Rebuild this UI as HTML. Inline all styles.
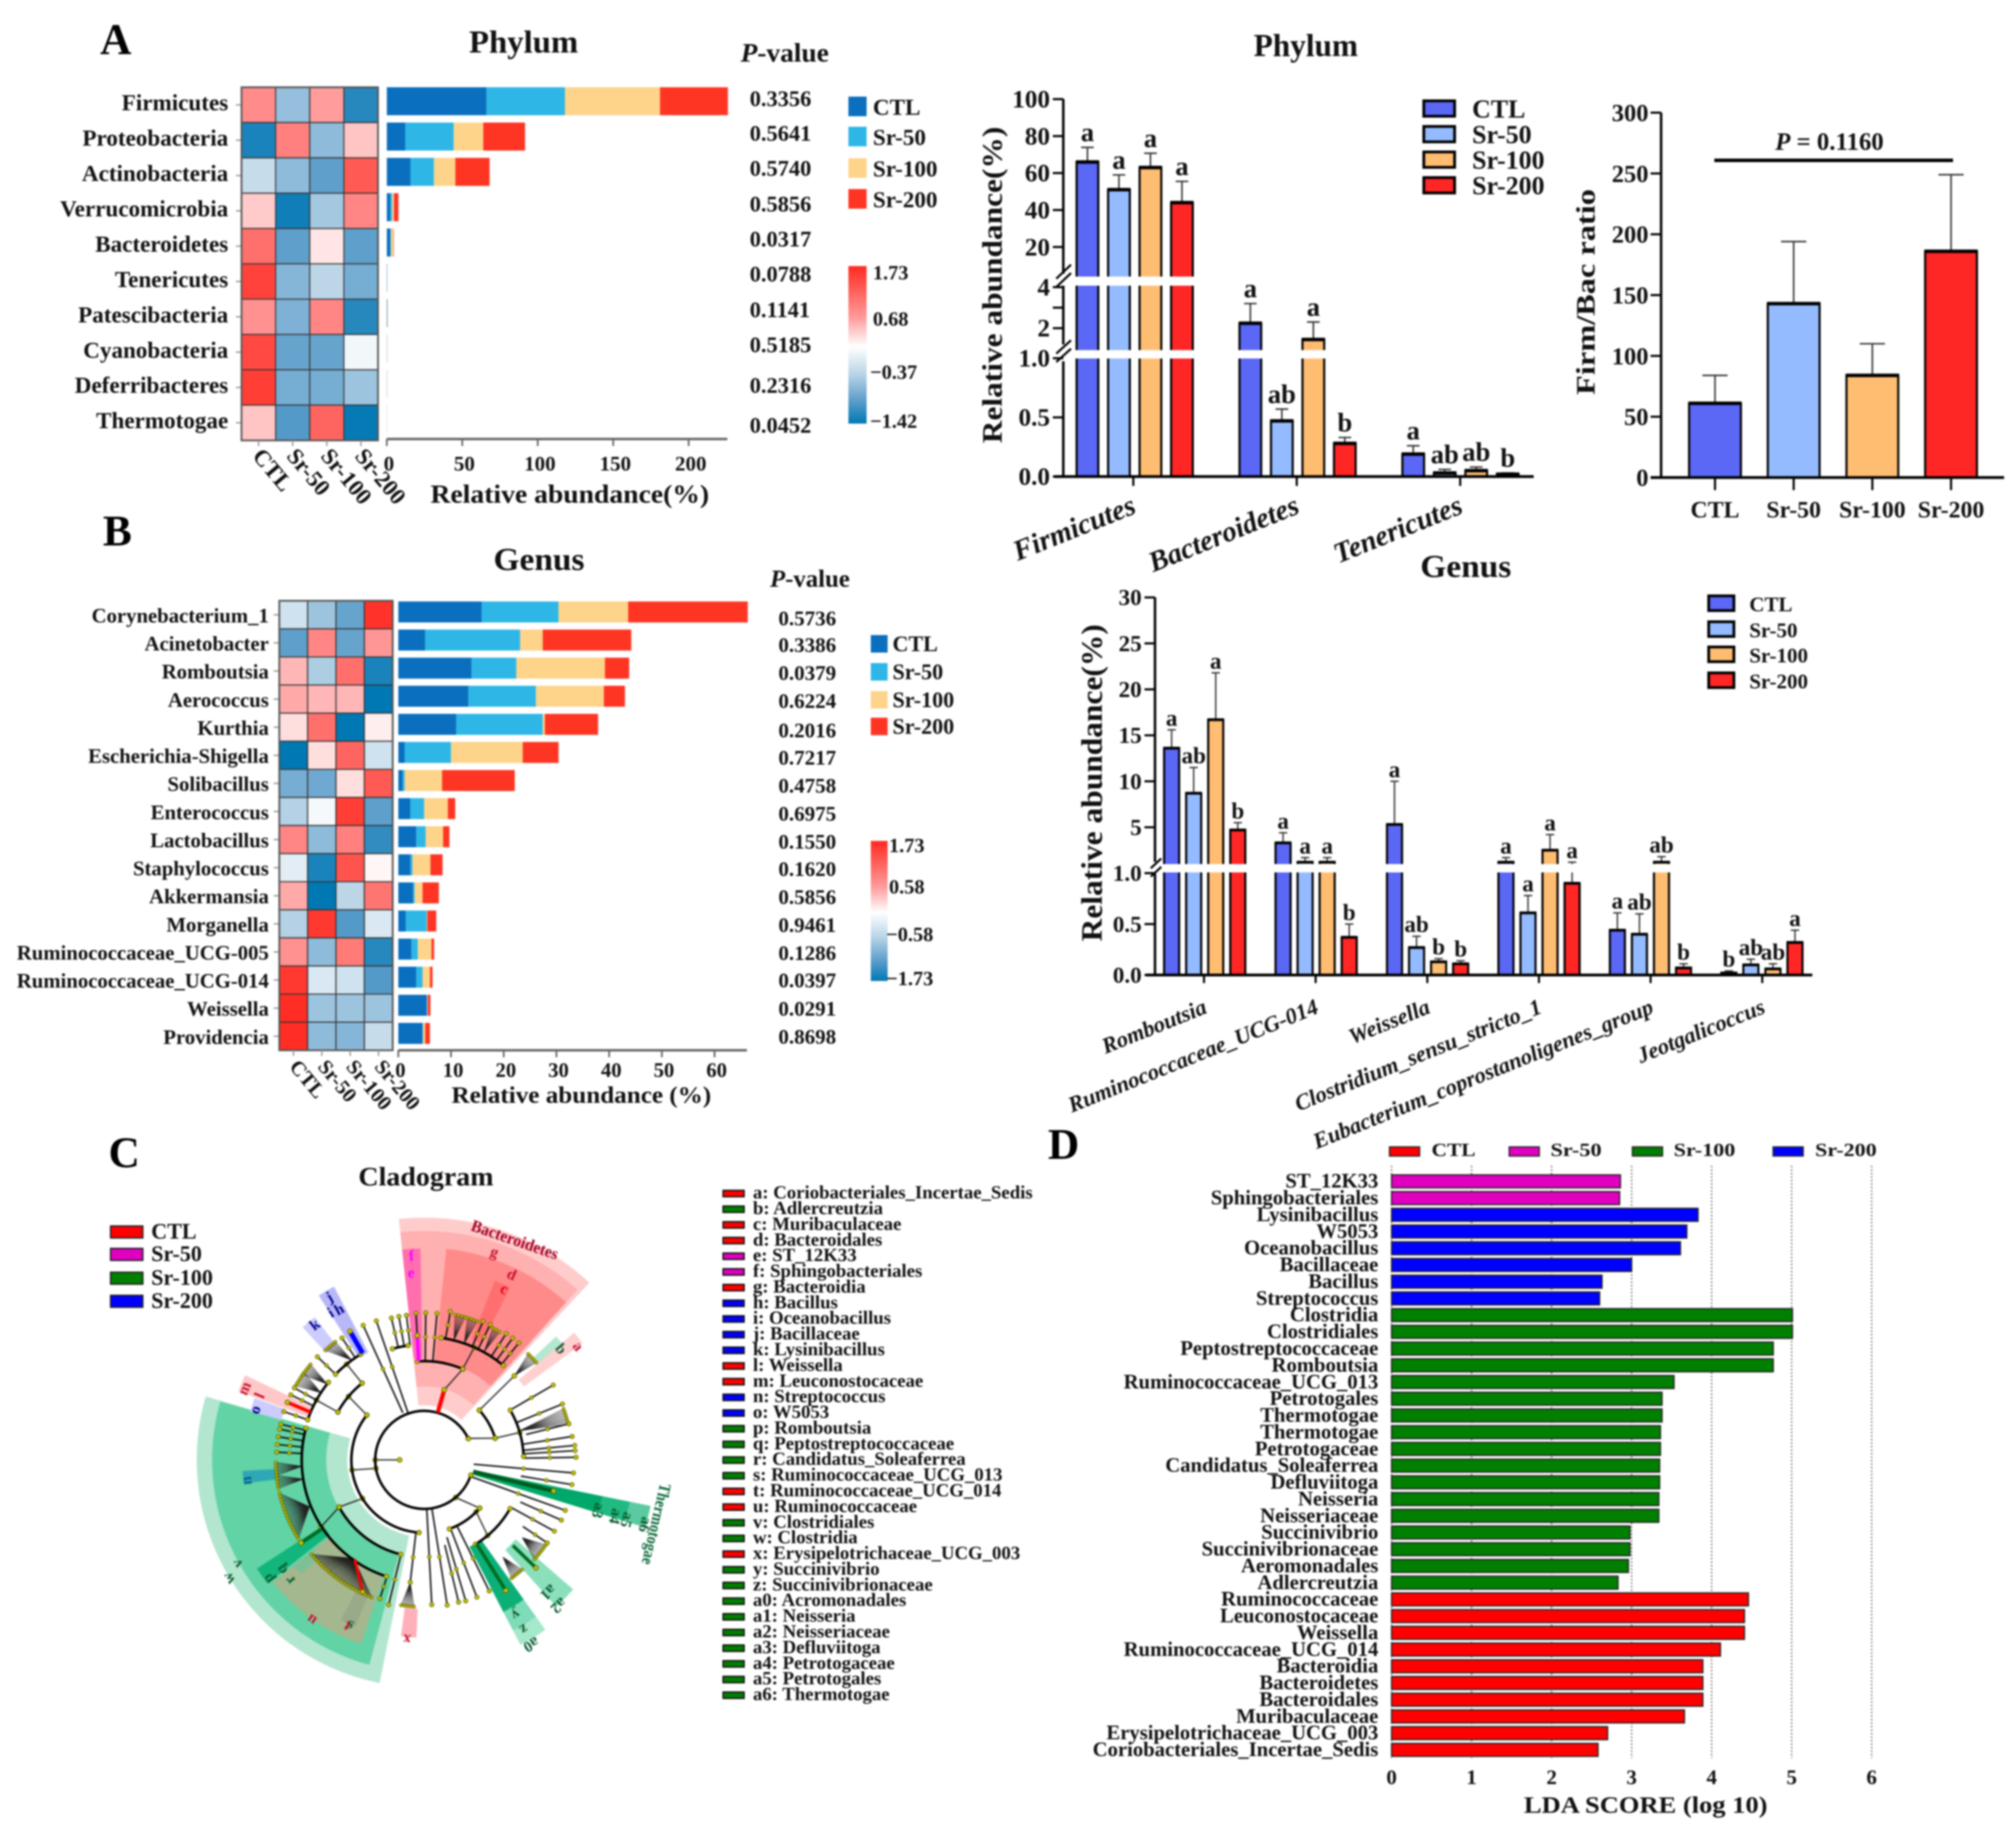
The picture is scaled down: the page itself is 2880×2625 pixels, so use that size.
<!DOCTYPE html>
<html lang="en">
<head>
<meta charset="utf-8">
<title>Microbiota composition figure</title>
<style>
html,body{margin:0;padding:0;background:#fff;}
#figure{position:absolute;left:0;top:0;width:2880px;height:2625px;filter:blur(1.2px);}
text{font-family:"Liberation Serif",serif;font-weight:bold;fill:#111;}
</style>
</head>
<body>
<svg id="figure" xmlns="http://www.w3.org/2000/svg" width="2880" height="2625" viewBox="0 0 2880 2625">
<defs>
<linearGradient id="heatGrad" x1="0" y1="0" x2="0" y2="1">
<stop offset="0" stop-color="#ff2a20"/><stop offset="0.33" stop-color="#ff9c9c"/><stop offset="0.51" stop-color="#ffffff"/><stop offset="0.68" stop-color="#bcd6e8"/><stop offset="0.85" stop-color="#5f9fcb"/><stop offset="1" stop-color="#0078b4"/>
</linearGradient>
</defs>
<rect x="0" y="0" width="2880" height="2625" fill="#ffffff"/>
<g id="panelA"></g>
<g id="barsA"></g>
<g id="ratio"></g>
<g id="panelB"></g>
<g id="barsB"></g>
<g id="panelC"></g>
<g id="panelD"></g>
</svg>
<script>
/* ---------- shared ---------- */
const groupNames = ['CTL','Sr-50','Sr-100','Sr-200'];
const stackColors = ['#0a6fbf','#2eb7e6','#fdd48a','#ff3524'];
const barColors = ['#5b67f5','#94bbff','#ffbd72','#ff2626'];

/* ---------- panel A: phylum ---------- */
const phylumNames = ['Firmicutes','Proteobacteria','Actinobacteria','Verrucomicrobia','Bacteroidetes','Tenericutes','Patescibacteria','Cyanobacteria','Deferribacteres','Thermotogae'];
const phylumHeat = [[0.85,-0.65,0.7,-1.25],[-1.3,0.95,-0.7,0.4],[-0.35,-0.7,-1.0,1.3],[0.35,-1.35,-0.55,0.9],[1.1,-1.0,0.15,-1.0],[1.5,-0.75,-0.4,-0.85],[0.8,-0.8,0.9,-1.25],[1.45,-0.95,-0.95,-0.12],[1.55,-0.85,-0.85,-0.6],[0.4,-1.05,1.2,-1.4]];
const phylumStack = [[66,52,63,45],[12.3,32,19.6,27.7],[15.8,15.4,14.2,22.7],[2.3,1.2,1.2,3],[2.3,0.5,1.5,0.3],[0.19,0.03,0.05,0.02],[0.3,0.1,0.2,0.05],[0.1,0.05,0.05,0.05],[0.1,0.03,0.03,0.04],[0.06,0.02,0.06,0.01]];
const phylumPValues = ['0.3356','0.5641','0.5740','0.5856','0.0317','0.0788','0.1141','0.5185','0.2316','0.0452'];
const phylumStackTicks = [0,50,100,150,200];
const phylumColorTicks = ['1.73','0.68','\u22120.37','\u22121.42'];

/* ---------- phylum bar chart ---------- */
const phylumBarNames = ['Firmicutes','Bacteroidetes','Tenericutes'];
const phylumBarValues = [[66,51,63,44],[2.24,0.47,1.45,0.28],[0.19,0.03,0.05,0.02]];
const phylumBarErrors = [[73.9,59,70.7,55.5],[3.2,0.57,2.3,0.33],[0.26,0.06,0.08,0.03]];
const phylumBarLetters = [['a','a','a','a'],['a','ab','a','b'],['a','ab','ab','b']];
const phylumAxisTicks = [100,80,60,40,20,4,3,2,1,0.5,0];
const phylumAxisLabels = ['100','80','60','40','20','4','','2','1.0','0.5','0.0'];

/* ---------- ratio chart ---------- */
const ratioValues = [61,143,84,186];
const ratioErrors = [84,194,110,249];
const ratioTicks = [0,50,100,150,200,250,300];

/* ---------- panel B: genus ---------- */
const genusNames = ['Corynebacterium_1','Acinetobacter','Romboutsia','Aerococcus','Kurthia','Escherichia-Shigella','Solibacillus','Enterococcus','Lactobacillus','Staphylococcus','Akkermansia','Morganella','Ruminococcaceae_UCG-005','Ruminococcaceae_UCG-014','Weissella','Providencia'];
const genusHeat = [[-0.3,-0.6,-0.95,1.65],[-1,0.9,-0.95,0.75],[0.5,-0.5,1.1,-1.3],[0.6,0.5,0.5,-1.55],[0.2,1.1,-1.55,0.08],[-1.6,0.2,1.2,-0.3],[-0.85,-0.9,0.2,1.3],[-0.45,-0.1,1.55,-1],[0.9,-0.7,0.95,-1.2],[-0.2,-1.3,1.35,0.02],[0.6,-1.55,-0.4,1.05],[-0.45,1.6,-1.05,-0.25],[0.8,-0.7,1,-1.25],[1.6,-0.25,-0.3,-1.05],[1.7,-0.6,-0.6,-0.6],[1.7,-0.7,-0.75,-0.35]];
const genusStack = [[15.8,14.6,13.2,22.7],[5.1,18,4.3,16.8],[13.9,8.5,16.8,4.6],[13.3,12.8,12.9,4],[11,16.4,0.4,10.1],[1.2,8.8,13.6,6.8],[0.8,0.4,7.1,13.8],[2.3,2.6,4.5,1.4],[3.4,1.8,3.3,1.2],[2.3,0.4,3.4,2.3],[2.8,0.3,1.5,3.1],[1.4,4,0.1,1.7],[2.5,1.2,2.6,0.5],[3.4,1.2,1.4,0.5],[5.4,0.1,0.1,0.5],[4.6,0.1,0.4,0.9]];
const genusPValues = ['0.5736','0.3386','0.0379','0.6224','0.2016','0.7217','0.4758','0.6975','0.1550','0.1620','0.5856','0.9461','0.1286','0.0397','0.0291','0.8698'];
const genusStackTicks = [0,10,20,30,40,50,60];
const genusColorTicks = ['1.73','0.58','\u22120.58','\u22121.73'];

/* ---------- genus bar chart ---------- */
const genusBarNames = ['Romboutsia','Ruminococcaceae_UCG-014','Weissella','Clostridium_sensu_stricto_1','Eubacterium_coprostanoligenes_group','Jeotgalicoccus'];
const genusBarValues = [[13.6,8.7,16.7,4.7],[3.3,1.2,1.2,0.37],[5.3,0.27,0.13,0.11],[1.2,0.61,2.5,0.9],[0.44,0.4,1.2,0.07],[0.02,0.1,0.06,0.32]];
const genusBarErrors = [[15.6,11.5,21.8,5.5],[4.4,1.7,1.7,0.5],[10,0.38,0.16,0.14],[1.7,0.78,4.2,1.2],[0.61,0.6,1.8,0.11],[0.04,0.155,0.11,0.44]];
const genusBarLetters = [['a','ab','a','b'],['a','a','a','b'],['a','ab','b','b'],['a','a','a','a'],['a','ab','ab','b'],['b','ab','ab','a']];
const genusAxisTicks = [30,25,20,15,10,5,1,0.5,0];
const genusAxisLabels = ['30','25','20','15','10','5','1.0','0.5','0.0'];

/* ---------- panel C: cladogram ---------- */
const cladeKeyNames = ['a: Coriobacteriales_Incertae_Sedis','b: Adlercreutzia','c: Muribaculaceae','d: Bacteroidales','e: ST_12K33','f: Sphingobacteriales','g: Bacteroidia','h: Bacillus','i: Oceanobacillus','j: Bacillaceae','k: Lysinibacillus','l: Weissella','m: Leuconostocaceae','n: Streptococcus','o: W5053','p: Romboutsia','q: Peptostreptococcaceae','r: Candidatus_Soleaferrea','s: Ruminococcaceae_UCG_013','t: Ruminococcaceae_UCG_014','u: Ruminococcaceae','v: Clostridiales','w: Clostridia','x: Erysipelotrichaceae_UCG_003','y: Succinivibrio','z: Succinivibrionaceae','a0: Acromonadales','a1: Neisseria','a2: Neisseriaceae','a3: Defluviitoga','a4: Petrotogaceae','a5: Petrotogales','a6: Thermotogae'];
const cladeKeyGroups = [0,2,0,0,1,1,0,3,3,3,3,0,0,3,3,2,2,2,2,0,0,2,2,0,2,2,2,2,2,2,2,2,2];
const ldaColors = ['#ff0000','#e000c0','#007f00','#0000ff'];
/* sectors: start angle, end angle, inner depth, outer depth, colour */
const cladeSectors = [
 [101.3,196.2,110,325,'#b2e6cf'],[105,196,140,303,'#62d3a4'],[109,141,175,278,'#a4b78e'],[141.8,147,172,285,'#12b57c'],
 [172.5,176.5,212,260,'#2fa8b5'],[137,141,205,240,'#7fbf95'],[112.5,117.5,200,258,'#9aa98a'],
 [264,313,78,346,'#ffcccc'],[264,312,105,327,'#ffb0b0'],[276,312,142,303,'#ff8a8a'],[291.5,296.5,185,275,'#ff6f6f'],[264,269,145,302,'#ff6fb0'],
 [11.5,17,72,260,'#00a86b'],[11.5,17,260,300,'#22ba83'],[11.5,17,300,330,'#5ccaa0'],
 [54.5,62.5,140,245,'#0cb077'],[54.5,62.5,245,275,'#7fdcb8'],[54.5,62.5,275,298,'#a5e8cb'],
 [41,48,173,282,'#8be0bb'],[316.9,322.5,214,258,'#b5e8d0'],[319.7,323.7,177,281,'#ffd0d0'],[92.5,97.5,213,254,'#ffb0b8'],
 [200.3,205.3,176,283,'#ffc8c8'],[195.6,200,212,258,'#ccccff'],[227.5,232.5,207,257,'#ccccff'],[237.3,242.5,173,279,'#b8b8f8']];
const ringArcs = [[70,18,334.5],[104,94,218],[141,209,231],[176,199,219],[176,224,239],[139,104,151],[175,108,195],[141,266,293],[176,278,310],[106,318,343],[142,330,358],[105,41,70],[141,29.5,58.7],[165,254,262]];
const connectorStems = [[180,35,180,70],[170,70,172,104],[218,104,220,141],[148,104,151,139],[151,139,147,176],[286,104,293,141],[293,141,294,176],[209,141,209,176],[231,141,231,176],[334,70,343,106],[318,106,317,176],[343,106,344,142],[50,70,41,105],[45,105,50,141]];
const leafStems = [[245.6,74,211],[251,71,210],[257,165,208],[260,165,208],[263,165,208],[266.8,141,210],[270.6,141,210],[275,141,210],[280,176,215],[293,176,215],[296,176,215],[303,176,215],[306,176,215],[309,176,215],[329.9,141,213],[338,141,213],[346,150,213],[351,142,214],[354.5,142,216],[356.5,142,216],[359,142,217],[5,71,214],[9.5,140,214],[19.7,71,214],[23.7,150,214],[28.7,141,212],[34,170,212],[69,105,210],[63.6,105,209],[73.6,115,210],[76.4,125,209],[87,70,207],[81,70,210],[96.5,104,176],[103.8,139,213],[107.7,172,208],[183,175,211],[186,175,211],[189,175,211],[192,175,211],[194,175,211],[199,176,212],[206,176,212],[209,176,212],[224,176,212],[236,176,210]];
const cladeFans = [[177,175,174,179,212],[171,175,169,174,212],[157.8,177,148,167,212],[125.6,173,111,140,210],[38.4,179,35,42,212],[51,179,48.3,53.5,210],[96.5,176,94,99,210],[317,177,314.5,319,212],[284,176,282,286,212],[289,176,287,291,212],[299,176,297.5,300.5,212],[234,176,228,233,211],[213,176,210,216,212],[218,176,215,220,212],[343,142,340,346,212]];
const thickStems = [[202.8,176,202.8,212,'#ff0000',5],[240,176,240,212,'#0000ff',7],[266.8,141,266.8,178,'#ff00ff',5],[146,176,146,212,'#006b1f',5],[58,141,58,220,'#006b1f',5],[44,176,44,222,'#006b1f',5],[13.5,72,13.5,190,'#005c1c',6],[125,173,115,208,'#ff0000',4],[286,70,286,104,'#ff0000',6]];
const cladeLabels = [['g',288.3,313,'#c8102e'],['d',294.7,292,'#c8102e'],['c',294.5,269,'#e00020'],['f',266.5,292,'#ff00ff'],['e',266.1,268,'#ff00ff'],['j',240.5,268,'#00008b'],['i',238.4,248,'#00008b'],['h',241.3,246,'#00008b'],['k',232,247,'#00008b'],['m',203,272,'#c8102e'],['l',202.8,248,'#c8102e'],['o',198,247,'#00008b'],['n',174.9,248,'#00608b'],['v',152.1,295,'#0a5c2f'],['w',149.8,316,'#0a5c2f'],['p',143.8,269,'#0a5c2f'],['q',143.6,246,'#0a5c2f'],['r',139.3,246,'#0a5c2f'],['u',126,267,'#c8102e'],['s',114.8,246,'#0a5c2f'],['t',115.6,249,'#c8102e'],['x',95.6,244,'#c8102e'],['y',58.6,244,'#0a5c2f'],['z',58.8,268,'#0a5c2f'],['a0',59.2,292,'#0a5c2f'],['a1',45.8,247,'#0a5c2f'],['a2',46.3,271,'#0a5c2f'],['b',319.7,249,'#0a5c2f'],['a',322.4,270.5,'#c8102e'],['a3',14.7,250,'#0a5c2f'],['a4',15.1,276,'#0a5c2f'],['a5',15.2,293,'#0a5c2f'],['a6',15.2,320,'#0a5c2f']];

/* ---------- panel D: LDA ---------- */
const ldaNames = ['ST_12K33','Sphingobacteriales','Lysinibacillus','W5053','Oceanobacillus','Bacillaceae','Bacillus','Streptococcus','Clostridia','Clostridiales','Peptostreptococcaceae','Romboutsia','Ruminococcaceae_UCG_013','Petrotogales','Thermotogae','Thermotogae','Petrotogaceae','Candidatus_Soleaferrea','Defluviitoga','Neisseria','Neisseriaceae','Succinivibrio','Succinivibrionaceae','Aeromonadales','Adlercreutzia','Ruminococcaceae','Leuconostocaceae','Weissella','Ruminococcaceae_UCG_014','Bacteroidia','Bacteroidetes','Bacteroidales','Muribaculaceae','Erysipelotrichaceae_UCG_003','Coriobacteriales_Incertae_Sedis'];
const ldaScores = [2.86,2.85,3.83,3.69,3.61,3.0,2.63,2.6,5.01,5.01,4.77,4.77,3.53,3.38,3.38,3.36,3.36,3.35,3.35,3.34,3.34,2.98,2.98,2.96,2.83,4.46,4.41,4.41,4.11,3.89,3.89,3.89,3.66,2.7,2.58];
const ldaGroups = [1,1,3,3,3,3,3,3,2,2,2,2,2,2,2,2,2,2,2,2,2,2,2,2,2,0,0,0,0,0,0,0,0,0,0];
const ldaTicks = [0,1,2,3,4,5,6];

/* ---------- drawing helpers ---------- */
const NS = 'http://www.w3.org/2000/svg';
function mk(tag, name, parent){
  const el = document.createElementNS(NS, tag);
  
  
  parent.appendChild(el);
  return el;
}
function rect(p,name,x,y,w,h,fill,stroke,sw){
  const el = mk('rect',name,p);
  el.setAttribute('x',x);el.setAttribute('y',y);el.setAttribute('width',Math.max(w,0));el.setAttribute('height',Math.max(h,0));
  el.setAttribute('fill',fill);
  if(stroke){el.setAttribute('stroke',stroke);el.setAttribute('stroke-width',sw||1);}
  return el;
}
function line(p,name,x1,y1,x2,y2,stroke,sw,dash){
  const el = mk('line',name,p);
  el.setAttribute('x1',x1);el.setAttribute('y1',y1);el.setAttribute('x2',x2);el.setAttribute('y2',y2);
  el.setAttribute('stroke',stroke);el.setAttribute('stroke-width',sw||1);
  if(dash)el.setAttribute('stroke-dasharray',dash);
  return el;
}
function text(p,name,x,y,str,o){
  o=o||{};
  const el = mk('text',name,p);
  el.setAttribute('x',x);el.setAttribute('y',y);
  el.setAttribute('font-size',o.s||30);
  if(o.a)el.setAttribute('text-anchor',o.a);
  if(o.i)el.setAttribute('font-style','italic');
  if(o.f)el.style.fill=o.f;
  if(o.len){el.setAttribute('textLength',o.len);el.setAttribute('lengthAdjust','spacingAndGlyphs');}
  if(o.r)el.setAttribute('transform','rotate('+o.r+' '+x+' '+y+')');
  el.textContent=str;
  return el;
}
function italicLead(p,name,x,y,lead,rest,o){
  const el = text(p,name,x,y,'',o);
  const a = mk('tspan',name+'-italic-part',el);
  a.setAttribute('font-style','italic');
  a.textContent=lead;
  const b = mk('tspan',name+'-plain-part',el);
  b.textContent=rest;
  return el;
}
const heatStops=[-1.42,-1,-0.4,-0.05,0.7,1.73];
const heatRGB=[[0,120,180],[95,159,203],[188,214,232],[255,255,255],[255,156,156],[255,42,32]];
function heatColor(v){
  let i=0;
  while(i<heatStops.length-2 && v>heatStops[i+1])i++;
  let t=(v-heatStops[i])/(heatStops[i+1]-heatStops[i]);
  t=Math.max(0,Math.min(1,t));
  const c=heatRGB[i].map((a,k)=>Math.round(a+(heatRGB[i+1][k]-a)*t));
  return 'rgb('+c.join(',')+')';
}
function panelLetter(p,name,str,x,y){text(p,name,x,y,str,{s:62,f:'#000'});}

/* heat + stacked composite */
function heatStackPanel(p,cfg){
  const cellW=cfg.heatW/4, rowH=(cfg.heatB-cfg.heatT)/cfg.names.length;
  const xs=v=>cfg.x0+v*cfg.scale;
  cfg.names.forEach((n,r)=>{
    const cy=cfg.heatT+rowH*(r+.5);
    text(p,'row-label',cfg.labelX,cy+cfg.labelS*.3+cfg.labelDy,n,{s:cfg.labelS,a:'end'});
    line(p,'row-tick',cfg.heatX-8,cy,cfg.heatX,cy,'#999',2);
    cfg.heat[r].forEach((v,c)=>{
      rect(p,'heat-cell',cfg.heatX+c*cellW,cfg.heatT+r*rowH,cellW,rowH,heatColor(v),'#333',1.5);
    });
    let acc=0;
    cfg.stack[r].forEach((v,s)=>{
      rect(p,'stack-segment-'+groupNames[s],xs(acc),cfg.barT+r*rowH,v*cfg.scale,cfg.barH,stackColors[s]);
      acc+=v;
    });
    text(p,'p-value',cfg.pX,cfg.pY[r]+cfg.pS*.34,cfg.p[r],{s:cfg.pS});
  });
  const frame=rect(p,'heatmap-frame',cfg.heatX,cfg.heatT,cfg.heatW,cfg.heatB-cfg.heatT,'none','#555',2.5);
  groupNames.forEach((g,c)=>{
    const cx=cfg.heatX+(c+.5)*cellW;
    line(p,'column-tick',cx,cfg.heatB,cx,cfg.heatB+8,'#999',2);
    text(p,'column-label',cx+cfg.colDx,cfg.colY,g,{s:cfg.labelS,r:50});
  });
  line(p,'stack-x-axis',cfg.x0,cfg.axisY,cfg.x1,cfg.axisY,'#666',3.5);
  cfg.ticks.forEach(t=>{
    line(p,'stack-x-tick',xs(t),cfg.axisY,xs(t),cfg.axisY+10,'#666',2.5);
    text(p,'stack-x-tick-label',xs(t)+cfg.tickDx,cfg.tickY,String(t),{s:cfg.tickS,a:'middle'});
  });
}

/* polar helpers (cladogram) */
const CX=606, CY=2085;
function pol(a,r){const t=a*Math.PI/180;return [CX+r*Math.cos(t),CY+r*Math.sin(t)];}
function sectorPath(a0,a1,r0,r1){
  const A=pol(a0,r1),B=pol(a1,r1),C=pol(a1,r0),D=pol(a0,r0);
  const big=(a1-a0)>180?1:0;
  return 'M'+A[0]+' '+A[1]+'A'+r1+' '+r1+' 0 '+big+' 1 '+B[0]+' '+B[1]+'L'+C[0]+' '+C[1]+'A'+r0+' '+r0+' 0 '+big+' 0 '+D[0]+' '+D[1]+'Z';
}
function arcPath(r,a0,a1){
  const A=pol(a0,r),B=pol(a1,r);
  return 'M'+A[0]+' '+A[1]+'A'+r+' '+r+' 0 '+((a1-a0)>180?1:0)+' 1 '+B[0]+' '+B[1];
}
function node(p,a,r,sz){
  const P=pol(a,r);
  const el=mk('circle','tree-node',p);
  el.setAttribute('cx',P[0]);el.setAttribute('cy',P[1]);el.setAttribute('r',sz||3.2);
  el.setAttribute('fill','#c4c400');el.setAttribute('stroke','#5c5c00');el.setAttribute('stroke-width',1);
}
function polarLine(p,name,a0,r0,a1,r1,color,sw){
  const A=pol(a0,r0),B=pol(a1,r1);
  return line(p,name,A[0],A[1],B[0],B[1],color,sw);
}

/* ---------- draw panel A ---------- */
(function(){
  const p=document.getElementById('panelA');
  panelLetter(p,'panel-letter-a','A',143,77);
  text(p,'phylum-stack-title',670,75,'Phylum',{s:46,len:156});
  italicLead(p,'p-value-header',1058,88,'P','-value',{s:38,len:126});
  heatStackPanel(p,{names:phylumNames,heat:phylumHeat,stack:phylumStack,p:phylumPValues,
    heatX:345,heatW:195,heatT:124.6,heatB:629,labelX:326,labelS:33,labelDy:-2,
    x0:552.6,x1:1039,scale:2.156,barT:124.6,barH:40,axisY:627,ticks:phylumStackTicks,tickY:672,tickS:30,tickDx:3,
    pX:1071,pY:[140.6,190,240,291,341,391,442,492,550,607],pS:32,colDx:-10,colY:652});
  text(p,'stack-x-title',615,718,'Relative abundance(%)',{s:37,len:398});
  const ly=[138,181,226,270];
  groupNames.forEach((g,i)=>{
    rect(p,'legend-swatch-'+g,1212,ly[i],26,28,stackColors[i]);
    text(p,'legend-label-'+g,1247,ly[i]+26,g,{s:33});
  });
  rect(p,'color-scale-bar',1212,380,26,225,'url(#heatGrad)');
  const cy=[389,455,531,601],cx=[1247,1247,1243,1243];
  phylumColorTicks.forEach((t,i)=>text(p,'color-scale-label',cx[i],cy[i]+10,t,{s:29}));
})();

/* ---------- draw phylum bar chart ---------- */
function yPhylum(v){
  if(v<=1)return 680.6-169*v;
  if(v<=4)return 498-(v-1)*29.3;
  return 395-(v-4)*2.64;
}
(function(){
  const p=document.getElementById('barsA');
  text(p,'phylum-bar-title',1791,80,'Phylum',{s:45,len:149});
  const barW=31;
  const xBar=(g,s)=>1538+232.7*g+45*s;
  phylumBarValues.forEach((vals,g)=>{
    vals.forEach((v,s)=>{
      const x=xBar(g,s),cx=x+barW/2,ye=yPhylum(phylumBarErrors[g][s]);
      line(p,'error-bar',cx,yPhylum(v),cx,ye,'#333',2.2);
      line(p,'error-cap',cx-9,ye,cx+9,ye,'#333',2.2);
      rect(p,'bar-'+phylumBarNames[g]+'-'+groupNames[s],x,yPhylum(v),barW,680.6-yPhylum(v),barColors[s],'#000',3);
      line(p,'bar-top-cap',x-1,yPhylum(v),x+barW+1,yPhylum(v),'#000',5);
    });
  });
  rect(p,'axis-break-upper',1522,395,680,13,'#fff');
  rect(p,'axis-break-lower',1522,500,680,12,'#fff');
  phylumBarValues.forEach((vals,g)=>{
    vals.forEach((v,s)=>{
      const cx=xBar(g,s)+barW/2;
      text(p,'significance-letter',cx,yPhylum(phylumBarErrors[g][s])-9,phylumBarLetters[g][s],{s:38,a:'middle'});
    });
  });
  line(p,'y-axis-upper',1519,yPhylum(100),1519,391,'#000',3.5);
  line(p,'y-axis-middle',1519,408,1519,492,'#000',3.5);
  line(p,'y-axis-lower',1519,516,1519,680.6,'#000',3.5);
  line(p,'axis-break-mark',1509,398,1530,378,'#000',3);
  line(p,'axis-break-mark',1509,410,1530,390,'#000',3);
  line(p,'axis-break-mark',1509,505,1530,486,'#000',3);
  line(p,'axis-break-mark',1509,517,1530,498,'#000',3);
  line(p,'x-axis',1506,680.6,2191,680.6,'#000',4);
  phylumAxisTicks.forEach((t,i)=>{
    line(p,'y-tick',1504,yPhylum(t),1519,yPhylum(t),'#000',3);
    if(phylumAxisLabels[i])text(p,'y-tick-label',1500,yPhylum(t)+12,phylumAxisLabels[i],{s:36,a:'end'});
  });
  phylumBarNames.forEach((n,g)=>{
    const tx=1619+233.5*g;
    line(p,'x-tick',tx,680.6,tx,694,'#000',3);
    text(p,'x-label-'+n,tx+6,732,n,{s:41,a:'end',i:true,r:-22});
  });
  const title=text(p,'y-axis-title',1431,407,'Relative abundance(%)',{s:40,a:'middle',r:-90,len:452});
  const ly=[144,180.6,217,253.6];
  groupNames.forEach((g,i)=>{
    rect(p,'legend-swatch-'+g,2034,ly[i],44,22,barColors[i],'#000',4);
    text(p,'legend-label-'+g,2103,ly[i]+24,g,{s:37});
  });
})();

/* ---------- draw ratio chart ---------- */
(function(){
  const p=document.getElementById('ratio');
  const y=v=>682-v*1.737;
  const xc=i=>2450+112.4*i;
  ratioValues.forEach((v,i)=>{
    line(p,'ratio-error-bar',xc(i),y(v),xc(i),y(ratioErrors[i]),'#333',2.2);
    line(p,'ratio-error-cap',xc(i)-18,y(ratioErrors[i]),xc(i)+18,y(ratioErrors[i]),'#333',2.2);
    rect(p,'ratio-bar-'+groupNames[i],xc(i)-37,y(v),74,682-y(v),barColors[i],'#000',3);
    line(p,'ratio-bar-top',xc(i)-38,y(v),xc(i)+38,y(v),'#000',5);
    line(p,'x-tick',xc(i),682,xc(i),700,'#000',3);
    text(p,'x-tick-label',xc(i),739,groupNames[i],{s:34,a:'middle'});
  });
  line(p,'y-axis',2373,y(300),2373,682,'#000',3.5);
  line(p,'x-axis',2358,682,2863,682,'#000',4);
  ratioTicks.forEach(t=>{
    line(p,'y-tick',2358,y(t),2373,y(t),'#000',3);
    text(p,'y-tick-label',2355,y(t)+12,String(t),{s:35,a:'end'});
  });
  text(p,'y-axis-title',2278,417,'Firm/Bac ratio',{s:38,a:'middle',r:-90,len:294});
  line(p,'significance-line',2449,229,2790,229,'#000',5);
  italicLead(p,'significance-label',2536,214,'P',' = 0.1160',{s:36,len:155});
})();

/* ---------- draw panel B ---------- */
(function(){
  const p=document.getElementById('panelB');
  panelLetter(p,'panel-letter-b','B',147,779);
  text(p,'genus-stack-title',705,814,'Genus',{s:46,len:130});
  italicLead(p,'p-value-header',1100,838,'P','-value',{s:35,len:114});
  heatStackPanel(p,{names:genusNames,heat:genusHeat,stack:genusStack,p:genusPValues,
    heatX:399,heatW:162,heatT:858,heatB:1500,labelX:384,labelS:29.6,labelDy:2,
    x0:569,x1:1067,scale:7.53,barT:859,barH:30,axisY:1500,ticks:genusStackTicks,tickY:1538,tickS:29.5,tickDx:3,
    pX:1112,pY:[882.6,921,961,1001,1043,1082,1122,1162,1202,1241,1281,1321,1361,1400,1440.5,1480.5],pS:30,colDx:-7,colY:1524});
  text(p,'stack-x-title',645,1575,'Relative abundance (%)',{s:34,len:371});
  const ly=[907,947,987,1025];
  groupNames.forEach((g,i)=>{
    rect(p,'legend-swatch-'+g,1244,ly[i],24,25,stackColors[i]);
    text(p,'legend-label-'+g,1275,ly[i]+23,g,{s:31.5});
  });
  rect(p,'color-scale-bar',1244,1201,24,200,'url(#heatGrad)');
  const cy=[1207,1266,1334,1397],cx=[1270,1270,1266,1266];
  genusColorTicks.forEach((t,i)=>text(p,'color-scale-label',cx[i],cy[i]+10,t,{s:29}));
})();

/* ---------- draw genus bar chart ---------- */
function yGenus(v){
  if(v<=1)return 1392.5-145.5*v;
  return 1234-(v-1)*13.13;
}
(function(){
  const p=document.getElementById('barsB');
  text(p,'genus-bar-title',2029,824,'Genus',{s:46,len:130});
  const barW=21.5;
  const xBar=(g,s)=>1663+159.2*g+31.5*s;
  genusBarValues.forEach((vals,g)=>{
    vals.forEach((v,s)=>{
      const x=xBar(g,s),cx=x+barW/2,ye=yGenus(genusBarErrors[g][s]);
      line(p,'error-bar',cx,yGenus(v),cx,ye,'#333',2);
      line(p,'error-cap',cx-6,ye,cx+6,ye,'#333',2);
      rect(p,'bar-'+genusBarNames[g]+'-'+groupNames[s],x,yGenus(v),barW,1392.5-yGenus(v),barColors[s],'#000',3);
      line(p,'bar-top-cap',x-1,yGenus(v),x+barW+1,yGenus(v),'#000',4);
    });
  });
  rect(p,'axis-break',1653,1234,936,12,'#fff');
  genusBarValues.forEach((vals,g)=>{
    vals.forEach((v,s)=>{
      const cx=xBar(g,s)+barW/2;
      text(p,'significance-letter',cx,yGenus(genusBarErrors[g][s])-6,genusBarLetters[g][s],{s:33,a:'middle'});
    });
  });
  line(p,'y-axis-upper',1650,yGenus(30),1650,1231,'#000',3.5);
  line(p,'y-axis-lower',1650,1248,1650,1392.5,'#000',3.5);
  line(p,'axis-break-mark',1644,1240,1659,1226,'#000',3);
  line(p,'axis-break-mark',1644,1252,1659,1238,'#000',3);
  line(p,'x-axis',1637,1392.5,2589,1392.5,'#000',4);
  genusAxisTicks.forEach((t,i)=>{
    line(p,'y-tick',1635,yGenus(t),1650,yGenus(t),'#000',3);
    text(p,'y-tick-label',1631,yGenus(t)+11,genusAxisLabels[i],{s:33,a:'end'});
  });
  genusBarNames.forEach((n,g)=>{
    const tx=1720+159.5*g;
    line(p,'x-tick',tx,1392.5,tx,1404,'#000',3);
    text(p,'x-label-'+n,tx+6,1446,n,{s:32,a:'end',i:true,r:-22});
  });
  text(p,'y-axis-title',1574,1118,'Relative abundance(%)',{s:42,a:'middle',r:-90,len:453});
  const ly=[851,888,924,961];
  groupNames.forEach((g,i)=>{
    rect(p,'legend-swatch-'+g,2441,ly[i],36,21,barColors[i],'#000',4);
    text(p,'legend-label-'+g,2499,ly[i]+22,g,{s:30});
  });
})();

/* ---------- draw panel C ---------- */
(function(){
  const p=document.getElementById('panelC');
  panelLetter(p,'panel-letter-c','C',155,1667);
  text(p,'cladogram-title',512,1693,'Cladogram',{s:38,len:193});
  const ly=[1751,1783,1817,1850];
  groupNames.forEach((g,i)=>{
    rect(p,'cladogram-legend-swatch-'+g,158,ly[i],46,17,ldaColors[i],'#222',2);
    text(p,'cladogram-legend-label-'+g,216,ly[i]+18,g,{s:31.5});
  });
  cladeSectors.forEach(s=>{
    const el=mk('path','clade-sector',p);
    el.setAttribute('d',sectorPath(s[0],s[1],s[2],s[3]));
    el.setAttribute('fill',s[4]);
  });
  cladeFans.forEach(f=>{
    const n=Math.max(5,Math.round((f[3]-f[2])*1.5));
    for(let i=0;i<=n;i++){
      const a=f[2]+(f[3]-f[2])*i/n;
      polarLine(p,'fan-branch',f[0],f[1],a,f[4],'#222',0.8);
    }
    const dots=Math.round(n/2);
    for(let i=0;i<=dots;i++){
      node(p,f[2]+(f[3]-f[2])*i/dots,f[4],2.2);
    }
  });
  connectorStems.forEach(s=>{
    polarLine(p,'tree-connector',s[0],s[1],s[2],s[3],'#222',1.8);
    node(p,s[0],s[1],3.4);
    node(p,s[2],s[3],3.4);
  });
  leafStems.forEach(s=>{
    polarLine(p,'tree-leaf-branch',s[0],s[1],s[0],s[2],'#111',2.2);
    node(p,s[0],(s[1]+s[2])/2,2.6);
    node(p,s[0],s[2],3);
  });
  ringArcs.forEach(a=>{
    const el=mk('path','tree-ring',p);
    el.setAttribute('d',arcPath(a[0],a[1],a[2]));
    el.setAttribute('fill','none');el.setAttribute('stroke','#000');el.setAttribute('stroke-width',3.6);
    node(p,a[1],a[0],3.2);
    node(p,a[2],a[0],3.2);
  });
  thickStems.forEach(s=>{
    polarLine(p,'highlight-branch',s[0],s[1],s[2],s[3],s[4],s[5]);
    node(p,s[2],s[3],3.4);
  });
  cladeLabels.forEach(l=>{
    const P=pol(l[1],l[2]);
    text(p,'clade-label-'+l[0],P[0],P[1]+7,l[0],{s:22,a:'middle',f:l[3],r:l[1]+90});
  });
  text(p,'clade-label-bacteroidetes',733,1778,'Bacteroidetes',{s:24,a:'middle',f:'#a50026',r:19,len:130});
  text(p,'clade-label-thermotogae',930,2175,'Thermotogae',{s:24,a:'middle',f:'#0a6b3a',r:103,len:118});

  cladeKeyNames.forEach((n,i)=>{
    const cy=1704.6+22.39*i;
    rect(p,'clade-key-swatch',1033,cy-4.5,30,9,ldaColors[cladeKeyGroups[i]],'#111',2);
    text(p,'clade-key-label',1075.6,cy+7,n,{s:26.8});
  });
})();

/* ---------- draw panel D ---------- */
(function(){
  const p=document.getElementById('panelD');
  panelLetter(p,'panel-letter-d','D',1497,1655);
  const xs=v=>1988+114.3*v;
  ldaTicks.forEach(t=>{
    line(p,'lda-gridline',xs(t),1665,xs(t),2511,'#555',1.8,'2 3');
    text(p,'lda-x-tick-label',xs(t),2548,String(t),{s:30,a:'middle'});
  });
  ldaNames.forEach((n,i)=>{
    const cy=1687.2+23.88*i;
    rect(p,'lda-bar-'+n,xs(0),cy-9.25,ldaScores[i]*114.3,18.5,ldaColors[ldaGroups[i]],'#222',1.8);
    const el=text(p,'lda-label-'+n,1969,cy+9,n,{s:29.5,a:'end'});
  });
  text(p,'lda-x-title',2177,2589,'LDA SCORE (log 10)',{s:34,len:348});
  const lx=[1985,2156,2332,2533],tx=[2045,2215,2391,2593],tw=[63,73,88,88];
  groupNames.forEach((g,i)=>{
    rect(p,'lda-legend-swatch-'+g,lx[i],1638,43,13,ldaColors[i],'#222',1.8);
    text(p,'lda-legend-label-'+g,tx[i],1651,g,{s:26,len:tw[i]});
  });
})();
</script>
</body>
</html>
